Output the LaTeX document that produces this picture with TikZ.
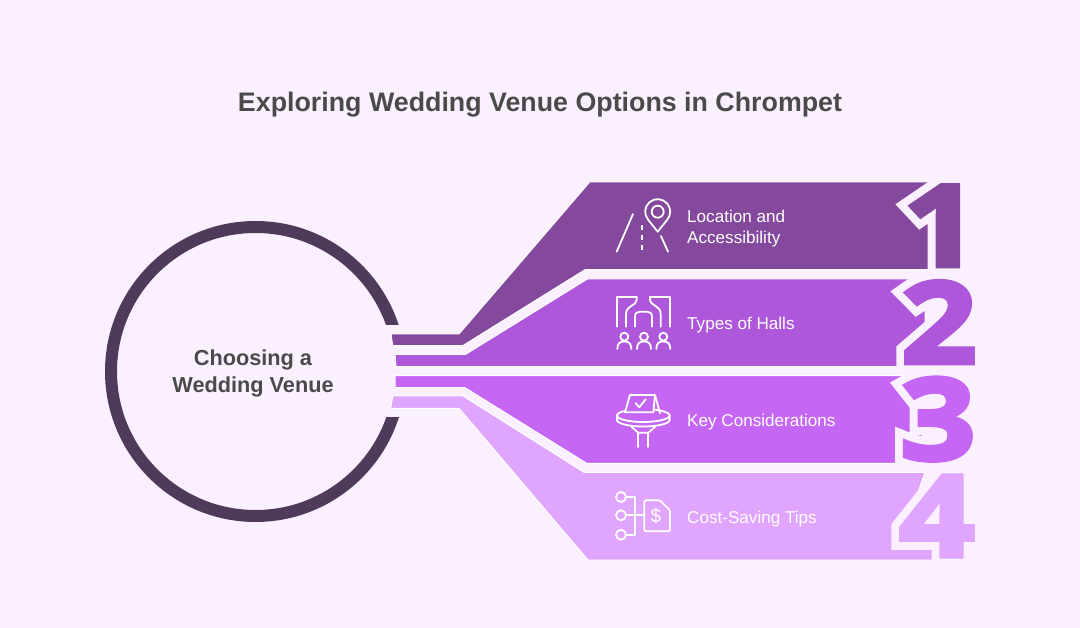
\documentclass[tikz,border=0pt]{standalone}
\usepackage{fontspec}
\setmainfont{Liberation Sans}
\newfontfamily\digitfont[FakeStretch=1.17,FakeBold=4]{Open Sans Bold}
\newfontfamily\digitgapfont[FakeStretch=1.17,FakeBold=18]{Open Sans Bold}
\definecolor{pagebg}{HTML}{FBF0FF}
\definecolor{ringcol}{HTML}{4F3A5C}
\definecolor{inkcol}{HTML}{4A4A4A}
\definecolor{bandone}{HTML}{84489C}
\definecolor{bandtwo}{HTML}{AE57DB}
\definecolor{bandthree}{HTML}{C666F5}
\definecolor{bandfour}{HTML}{E0A5FF}
\begin{document}
\begin{tikzpicture}[
            x=1pt, y=-1pt,
            title/.style={font=\fontsize{26.8}{32}\selectfont\bfseries, text=inkcol},
            ring/.style={circle, draw=ringcol, line width=12pt, minimum size=289pt, inner sep=0pt},
            ringtext/.style={inner sep=0pt, align=center, font=\fontsize{21.7}{27}\selectfont\bfseries, text=inkcol},
            band/.style={draw=white, line width=1pt, line join=miter},
            label/.style={anchor=west, inner sep=0pt, align=left, text=white, font=\fontsize{17.1}{21}\selectfont},
            digit/.style={anchor=base west, inner sep=0pt, font=\digitfont\fontsize{113}{113}\selectfont},
            digitgap/.style={anchor=base west, inner sep=0pt, font=\digitgapfont\fontsize{113}{113}\selectfont, text=pagebg},
            icon/.style={draw=white, line width=1.8pt, line cap=round, line join=round},
        ]
        \path[use as bounding box, fill=pagebg] (0,0) rectangle (1080,628);
        \node[title] (heading) at (540,104.5) {Exploring Wedding Venue Options in Chrompet};
        \node[ring] (venue) at (255.5,371.5) {};
        \node[ringtext] (venuetext) at (253,373) {Choosing a\\Wedding Venue};
        \fill[pagebg] (380,325) rectangle (415,417);

        \fill[band, fill=bandone] (391,334) -- (459,334) -- (589.7,182) -- (932,182) -- (932,269.7) -- (585,269.7) -- (462.7,345.7) -- (392.7,345.7) -- cycle;
        \fill[band, fill=bandtwo] (395,354.3) -- (465.7,354.3) -- (587.3,279) -- (925,279) -- (925,366.7) -- (396,366.7) -- cycle;
        \fill[band, fill=bandthree] (395,375.7) -- (922,375.7) -- (922,463.3) -- (586.7,463.3) -- (465,387.7) -- (395,387.7) -- cycle;
        \fill[band, fill=bandfour] (392.7,396) -- (463,396) -- (584,472.3) -- (925,472.3) -- (905,530) -- (937,545) -- (937,560) -- (588,560) -- (459,408.3) -- (390.7,408.3) -- cycle;

        \node[digitgap] (onegap) at (903,266) {1};
        \node[digitgap] (twogap) at (901,363) {2};
        \node[digitgap] (threegap) at (900,459.5) {3};
        \node[digitgap] (fourgap) at (899,556.3) {4};
        \node[digit, text=bandone] (one) at (903,266) {1};
        \node[digit, text=bandtwo] (two) at (901,363) {2};
        \node[digit, text=bandthree] (three) at (900,459.5) {3};
        \node[digit, text=bandfour] (four) at (899,556.3) {4};

        \node[label] (location) at (687,228.5) {Location and\\Accessibility};
        \node[label] (halls) at (687,325) {Types of Halls};
        \node[label] (factors) at (687,422) {Key Considerations};
        \node[label] (savings) at (687,519) {Cost-Saving Tips};

        \draw[icon] (657.7,231.7) -- (648.1,219.7) arc[start angle=140, end angle=400, radius=12.5] -- cycle;
        \draw[icon] (657.7,211.7) circle[radius=6];
        \draw[icon] (633,214) -- (616.7,251.7);
        \draw[icon] (661,236) -- (668,251.7);
        \draw[icon, dash pattern=on 5pt off 5pt, line cap=butt] (642.3,225.5) -- (642.3,251.7);

        \draw[icon] (636.7,296.7) -- (616.7,296.7) -- (616.7,326.7);
        \draw[icon] (650,296.7) -- (670,296.7) -- (670,326.7);
        \draw[icon] (636.7,296.7) -- (636.7,300) .. controls (636.7,306) and (626,305) .. (626,314) -- (626,326.7);
        \draw[icon] (650,296.7) -- (650,300) .. controls (650,306) and (660.7,305) .. (660.7,314) -- (660.7,326.7);
        \draw[icon] (635,326.7) -- (635,317) .. controls (635,313) and (637,311.7) .. (640,311.7) -- (647,311.7) .. controls (650,311.7) and (652,313) .. (652,317) -- (652,326.7);
        \foreach \px in {624.3,644,663.3} {
            \draw[icon] (\px,336.7) circle[radius=4];
            \draw[icon] (\px-7,349) .. controls (\px-7,343) and (\px-4,341.5) .. (\px,341.5) .. controls (\px+4,341.5) and (\px+7,343) .. (\px+7,349);
        }

        \draw[icon] (643.3,415.5) ellipse[x radius=26.3, y radius=6.5];
        \draw[icon] (617,415.5) -- (617,420) arc[start angle=180, end angle=0, x radius=26.3, y radius=6.5] -- (669.6,415.5);
        \draw[icon, fill=bandthree] (630,395) -- (625,412.3) -- (653.3,412.3) -- (655,395) -- cycle;
        \draw[icon] (655,395) -- (660,413.3);
        \draw[icon] (635.7,403.3) -- (639.3,407.3) -- (645.7,399.3);
        \draw[icon] (631.7,427) -- (638.3,432.7) -- (648.3,432.7) -- (655,427);
        \draw[icon] (638.3,432.7) -- (638.3,447);
        \draw[icon] (648.3,432.7) -- (648.3,447);

        \draw[icon] (621,497) circle[radius=5];
        \draw[icon] (621,515.3) circle[radius=5];
        \draw[icon] (621,534.7) circle[radius=5];
        \draw[icon] (626,497) -- (635,497) -- (635,534.7) -- (626,534.7);
        \draw[icon] (626,515.3) -- (644.3,515.3);
        \draw[icon, rounded corners=1.5pt] (644.3,500.3) -- (660,500.3) -- (670,510.3) -- (670,531.3) -- (644.3,531.3) -- cycle;
        \node[text=white, inner sep=0pt, font=\fontsize{19}{19}\selectfont] (dollar) at (656,516) {\$};
\end{tikzpicture}
\end{document}
